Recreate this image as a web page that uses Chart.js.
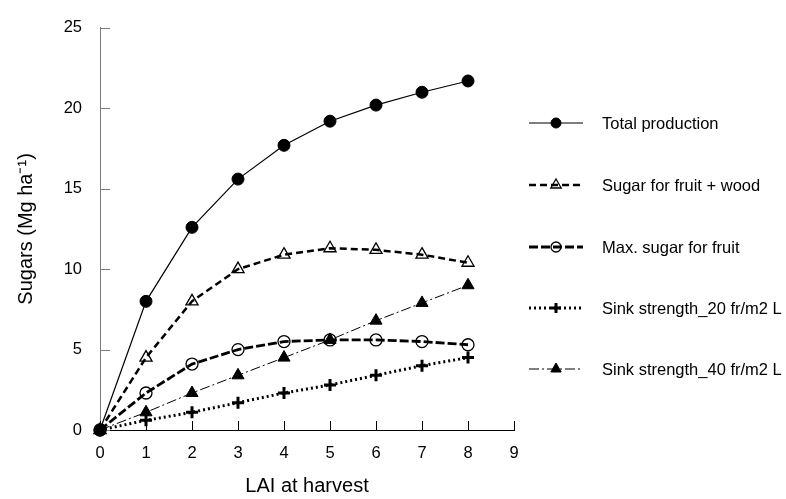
<!DOCTYPE html>
<html>
<head>
<meta charset="utf-8">
<title>Sugars vs LAI</title>
<script src="https://cdn.jsdelivr.net/npm/chart.js@4/dist/chart.umd.min.js"></script>
<style>
  html, body { margin: 0; padding: 0; background: #fff; }
  #wrap { width: 786px; height: 499px; }
</style>
</head>
<body>
<div id="wrap"><canvas id="sugarChart" width="786" height="499"></canvas></div>
<script>
// LAI at harvest
const lai = [0, 1, 2, 3, 4, 5, 6, 7, 8];
// sugars, Mg/ha
const totalProduction = [0, 8.0, 12.6, 15.6, 17.7, 19.2, 20.2, 21.0, 21.7];
const sugarFruitWood  = [0, 4.5, 8.0, 10.0, 10.9, 11.3, 11.2, 10.9, 10.4];
const maxSugarFruit   = [0, 2.3, 4.1, 5.0, 5.5, 5.6, 5.6, 5.5, 5.3];
const sink20          = [0, 0.6, 1.1, 1.7, 2.3, 2.8, 3.4, 4.0, 4.5];
const sink40          = [0, 1.1, 2.3, 3.4, 4.5, 5.6, 6.8, 7.9, 9.0];

const seriesNames = [
    'Total production',
    'Sugar for fruit + wood',
    'Max. sugar for fruit',
    'Sink strength_20 fr/m2 L',
    'Sink strength_40 fr/m2 L'
];

const xTicks = [0, 1, 2, 3, 4, 5, 6, 7, 8, 9];
const yTicks = [0, 5, 10, 15, 20, 25];

const FONT = '"Liberation Sans", Arial, Helvetica, sans-serif';

function pts(values) {
    return values.map((v, i) => ({ x: lai[i], y: v }));
}

// draws short tick marks pointing into the plot
const innerTicks = {
    id: 'innerTicks',
    beforeDatasetsDraw(chart) {
        const { ctx, chartArea, scales } = chart;
        ctx.save();
        ctx.lineWidth = 1;
        ctx.strokeStyle = '#000';
        ctx.beginPath();
        xTicks.forEach(v => {
            const px = Math.round(scales.x.getPixelForValue(v)) + 0.5;
            ctx.moveTo(px, chartArea.bottom);
            ctx.lineTo(px, chartArea.bottom - 9);
        });
        ctx.stroke();
        ctx.strokeStyle = '#7a7a7a';
        ctx.beginPath();
        yTicks.forEach(v => {
            const py = Math.round(scales.y.getPixelForValue(v)) + 0.5;
            ctx.moveTo(chartArea.left, py);
            ctx.lineTo(chartArea.left + 10, py);
        });
        ctx.stroke();
        ctx.restore();
    }
};

// legend on the right: line sample with marker, then the label
const sideLegend = {
    id: 'sideLegend',
    afterDraw(chart) {
        const ctx = chart.ctx;
        const rows = [123, 185, 247, 308, 369];
        ctx.save();
        chart.data.datasets.forEach((ds, i) => {
            const y = rows[i];
            ctx.strokeStyle = '#000';
            ctx.lineWidth = ds.borderWidth;
            ctx.setLineDash(ds.borderDash || []);
            ctx.beginPath();
            ctx.moveTo(529, y);
            ctx.lineTo(583, y);
            ctx.stroke();
            ctx.setLineDash([]);
            ctx.fillStyle = ds.pointBackgroundColor;
            ctx.strokeStyle = '#000';
            ctx.lineWidth = ds.pointBorderWidth;
            Chart.helpers.drawPoint(ctx, {
                pointStyle: ds.pointStyle,
                radius: ds.pointRadius - 1,
                rotation: 0,
                borderWidth: ds.pointBorderWidth
            }, 556, y);
            ctx.fillStyle = '#000';
            ctx.font = '16.5px ' + FONT;
            ctx.textAlign = 'left';
            ctx.textBaseline = 'middle';
            ctx.fillText(ds.label, 602, y + 1);
        });
        ctx.restore();
    }
};

const ctx = document.getElementById('sugarChart');
const sugarChart = new Chart(ctx, {
    type: 'line',
    data: {
        datasets: [
            {
                label: seriesNames[0],
                data: pts(totalProduction),
                borderColor: '#000',
                borderWidth: 1.2,
                pointStyle: 'circle',
                pointRadius: 6,
                pointBackgroundColor: '#000',
                pointBorderColor: '#000',
                pointBorderWidth: 1
            },
            {
                label: seriesNames[1],
                data: pts(sugarFruitWood),
                borderColor: '#000',
                borderWidth: 2.5,
                borderDash: [7, 4],
                pointStyle: 'triangle',
                pointRadius: 7,
                pointBackgroundColor: 'rgba(255,255,255,0)',
                pointBorderColor: '#000',
                pointBorderWidth: 1.3
            },
            {
                label: seriesNames[2],
                data: pts(maxSugarFruit),
                borderColor: '#000',
                borderWidth: 2.8,
                borderDash: [9, 3],
                pointStyle: 'circle',
                pointRadius: 6,
                pointBackgroundColor: 'rgba(255,255,255,0)',
                pointBorderColor: '#000',
                pointBorderWidth: 1.3
            },
            {
                label: seriesNames[3],
                data: pts(sink20),
                borderColor: '#000',
                borderWidth: 3,
                borderDash: [2, 3],
                pointStyle: 'cross',
                pointRadius: 6,
                pointBackgroundColor: '#000',
                pointBorderColor: '#000',
                pointBorderWidth: 3
            },
            {
                label: seriesNames[4],
                data: pts(sink40),
                borderColor: '#000',
                borderWidth: 1,
                borderDash: [10, 3, 2, 3],
                pointStyle: 'triangle',
                pointRadius: 7,
                pointBackgroundColor: '#000',
                pointBorderColor: '#000',
                pointBorderWidth: 1
            }
        ]
    },
    options: {
        responsive: false,
        animation: false,
        clip: false,
        layout: { padding: { left: 0, top: 14, right: 272, bottom: 0 } },
        plugins: {
            legend: { display: false },
            tooltip: { enabled: false }
        },
        scales: {
            x: {
                type: 'linear',
                min: 0,
                max: 9,
                afterBuildTicks(scale) { scale.ticks = xTicks.map(v => ({ value: v })); },
                afterFit(scale) { scale.height = 69; },
                grid: { display: false, drawTicks: false },
                border: { display: true, color: '#000', width: 1 },
                ticks: {
                    color: '#000',
                    padding: 14,
                    maxRotation: 0,
                    font: { family: FONT, size: 16.5 }
                },
                title: {
                    display: true,
                    text: 'LAI at harvest',
                    color: '#000',
                    padding: { top: 0, bottom: 1 },
                    font: { family: FONT, size: 20 }
                }
            },
            y: {
                min: 0,
                max: 25,
                afterBuildTicks(scale) { scale.ticks = yTicks.map(v => ({ value: v })); },
                afterFit(scale) { scale.width = 100; },
                grid: { display: false, drawTicks: false },
                border: { display: true, color: '#7a7a7a', width: 1 },
                ticks: {
                    color: '#000',
                    padding: 18,
                    font: { family: FONT, size: 16.5 }
                },
                title: {
                    display: true,
                    text: 'Sugars (Mg ha\u207B\u00B9)',
                    color: '#000',
                    padding: { top: 14, bottom: 0 },
                    font: { family: FONT, size: 20 }
                }
            }
        }
    },
    plugins: [innerTicks, sideLegend]
});
</script>
</body>
</html>
